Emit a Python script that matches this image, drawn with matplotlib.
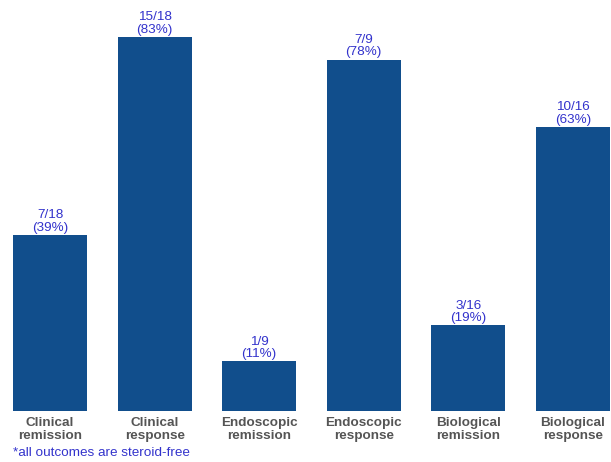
import matplotlib
matplotlib.use("Agg")
import matplotlib.pyplot as plt

categories = ["Clinical\nremission", "Clinical\nresponse", "Endoscopic\nremission",
              "Endoscopic\nresponse", "Biological\nremission", "Biological\nresponse"]
numerators = [7, 15, 1, 7, 3, 10]
denominators = [18, 18, 9, 9, 16, 16]
percents = [39, 83, 11, 78, 19, 63]
footnote = "*all outcomes are steroid-free"

plt.rcParams['font.family'] = ['Liberation Sans', 'DejaVu Sans']

W, H = 611, 462
fig = plt.figure(figsize=(W / 100, H / 100), dpi=100)
ymax = 90
px_per_unit = 374 / 83
ax = fig.add_axes([13 / W, 51 / H, (610 - 13) / W, ymax * px_per_unit / H])

x = list(range(len(categories)))
bar_color = "#114E8C"
text_color = "#3333CC"

ax.bar(x, percents, width=0.71, color=bar_color)
for xi, v, n, d in zip(x, percents, numerators, denominators):
    ax.annotate(f"{n}/{d}\n({v}%)", (xi, v), xytext=(0, 1), textcoords="offset points",
                ha="center", va="bottom", fontsize=9.7, color=text_color, linespacing=1.05)

ax.set_xlim(-0.355, len(categories) - 1 + 0.355)
ax.set_ylim(0, ymax)
ax.set_xticks(x)
ax.set_xticklabels(categories, fontsize=9.7, fontweight="bold", color="#555555", linespacing=1.15)
ax.tick_params(axis="x", length=0, pad=4)
ax.set_yticks([])
for s in ax.spines.values():
    s.set_visible(False)

fig.text(13 / W, 1 - 453 / H, footnote, fontsize=9.7, color=text_color, ha="left", va="center")

fig.savefig("out.png", dpi=100)
